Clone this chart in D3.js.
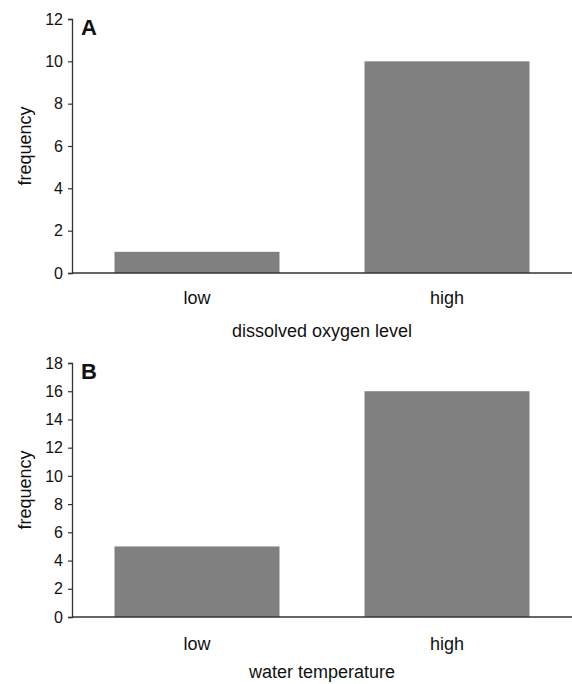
<!DOCTYPE html>
<html>
<head>
<meta charset="utf-8">
<script src="https://cdn.jsdelivr.net/npm/d3@7"></script>
<style>
  body { margin: 0; background: #fff; }
  svg { display: block; }
  text { font-family: "Liberation Sans", Arial, sans-serif; fill: #111; }
</style>
</head>
<body>
<div id="chart"></div>
<script>
// data
const categories = ["low", "high"];
const oxygenCounts = [1, 10];
const temperatureCounts = [5, 16];
const panelLetters = ["A", "B"];
const xTitles = ["dissolved oxygen level", "water temperature"];
const yMaxes = [12, 18];

const width = 572;
const height = 684;

const svg = d3.select("#chart")
              .append("svg")
              .attr("width", width)
              .attr("height", height);

function drawPanel(values, letter, xTitle, yMax, top, bottom, catGap, titleGap) {
    const left = 72;
    const right = 572;

    const x = d3.scaleBand()
                .domain(categories)
                .range([left, right])
                .paddingInner(0.34)
                .paddingOuter(0.17);

    const y = d3.scaleLinear()
                .domain([0, yMax])
                .range([bottom, top]);

    const g = svg.append("g");

    g.selectAll("rect.bar")
     .data(values)
     .enter()
     .append("rect")
     .attr("class", "bar")
     .attr("x", function (d, i) { return x(categories[i]); })
     .attr("y", function (d) { return y(d); })
     .attr("width", x.bandwidth())
     .attr("height", function (d) { return y(0) - y(d); })
     .attr("fill", "#808080");

    // y axis
    const yAxis = g.append("g")
                   .attr("transform", "translate(" + left + ",0)")
                   .call(d3.axisLeft(y).tickValues(d3.range(0, yMax + 1, 2)).tickSize(4).tickPadding(5));
    yAxis.select(".domain").attr("stroke", "#333").attr("stroke-width", 1.3);
    yAxis.selectAll(".tick line").attr("stroke", "#333").attr("stroke-width", 1.2);
    yAxis.selectAll(".tick text")
         .style("font-size", "16px")
         .style("font-family", "'Liberation Sans', Arial, sans-serif")
         .attr("fill", "#111");

    // x axis baseline
    g.append("line")
     .attr("x1", left)
     .attr("x2", right)
     .attr("y1", y(0))
     .attr("y2", y(0))
     .attr("stroke", "#333")
     .attr("stroke-width", 1.4);

    // category labels
    g.selectAll("text.cat")
     .data(categories)
     .enter()
     .append("text")
     .attr("class", "cat")
     .attr("x", function (d) { return x(d) + x.bandwidth() / 2; })
     .attr("y", y(0) + catGap)
     .attr("text-anchor", "middle")
     .style("font-size", "18px")
     .text(function (d) { return d; });

    g.append("text")
     .attr("x", (left + right) / 2)
     .attr("y", y(0) + titleGap)
     .attr("text-anchor", "middle")
     .style("font-size", "18px")
     .text(xTitle);

    g.append("text")
     .attr("transform", "translate(" + 31 + "," + ((top + bottom) / 2) + ") rotate(-90)")
     .attr("text-anchor", "middle")
     .style("font-size", "18px")
     .text("frequency");

    g.append("text")
     .attr("x", left + 9)
     .attr("y", top + 16)
     .style("font-size", "22px")
     .style("font-weight", "bold")
     .text(letter);
}

drawPanel(oxygenCounts, panelLetters[0], xTitles[0], yMaxes[0], 19, 273, 31, 64);
drawPanel(temperatureCounts, panelLetters[1], xTitles[1], yMaxes[1], 363, 617, 33, 61);
</script>
</body>
</html>
